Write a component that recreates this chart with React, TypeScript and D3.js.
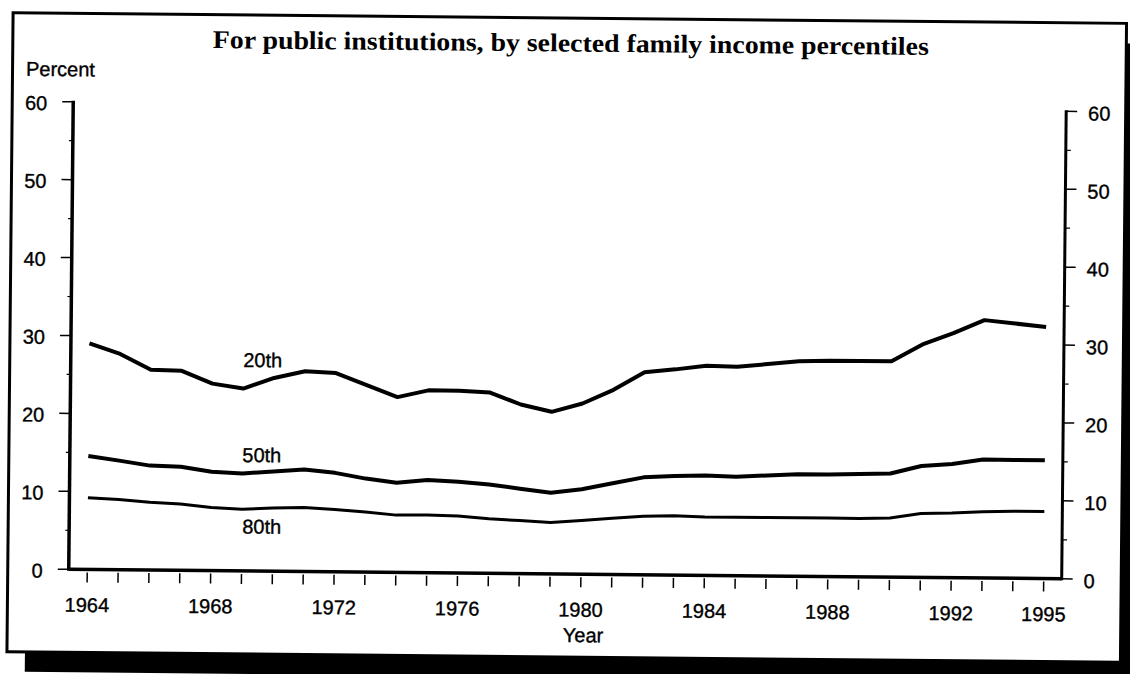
import React from "react";
import * as d3 from "d3";

const years: number[] = d3.range(1964, 1996);
const pct20: number[] = [29.0, 27.7, 25.7, 25.6, 24.0, 23.4, 24.8, 25.7, 25.5, 24.0, 22.5, 23.4, 23.4, 23.2, 21.7, 20.8, 21.9, 23.7, 26.0, 26.4, 26.9, 26.8, 27.2, 27.6, 27.7, 27.7, 27.7, 29.9, 31.4, 33.1, 32.7, 32.3];
const pct50: number[] = [14.55, 14.0, 13.4, 13.3, 12.7, 12.5, 12.8, 13.1, 12.7, 12.0, 11.5, 11.9, 11.7, 11.4, 10.9, 10.4, 10.9, 11.7, 12.5, 12.7, 12.8, 12.7, 12.9, 13.1, 13.1, 13.2, 13.3, 14.3, 14.6, 15.2, 15.2, 15.2];
const pct80: number[] = [9.2, 9.0, 8.7, 8.5, 8.1, 7.9, 8.1, 8.2, 8.0, 7.7, 7.35, 7.4, 7.3, 7.0, 6.8, 6.6, 6.9, 7.2, 7.5, 7.6, 7.5, 7.5, 7.5, 7.5, 7.5, 7.5, 7.6, 8.2, 8.3, 8.5, 8.6, 8.6];
const xTickLabels: number[] = [1964, 1968, 1972, 1976, 1980, 1984, 1988, 1992, 1995];
const yMajorTicks: number[] = [0, 10, 20, 30, 40, 50, 60];
const yMinorTicks: number[] = [5, 15, 25, 35, 45, 55];
const seriesLabels = [
  { name: "20th", values: pct20, width: 4, lx: 263, ly: 370 },
  { name: "50th", values: pct50, width: 4, lx: 263, ly: 465 },
  { name: "80th", values: pct80, width: 3, lx: 263.5, ly: 536.5 },
];
const title = "For public institutions, by selected family income percentiles";

const SANS = "'Liberation Sans', Arial, Helvetica, sans-serif";
const SERIF = "'Liberation Serif', 'Times New Roman', serif";

export default function App() {
  const left = 71;
  const right = 1064;
  const x = d3.scaleLinear().domain([1964, 1995]).range([89.5, 1046]);
  const y = d3.scaleLinear().domain([0, 60]).range([574, 106.5]);
  const y0 = y(0);
  const line = d3
    .line<number>()
    .x((_, i) => x(years[i]))
    .y((d) => y(d));
  const txt = { fontFamily: SANS, fontSize: 20, stroke: "#000", strokeWidth: 0.35 };

  return (
    <svg
      width={1130}
      height={674}
      style={{ position: "absolute", left: 0, top: 0, background: "#fff" }}
    >
      <rect x={0} y={0} width={1130} height={674} fill="#fff" />
      <g transform="rotate(0.55, 565, 337)">
        {/* shadow */}
        <rect x={28} y={38} width={1125} height={639} fill="#000" />
        {/* frame */}
        <rect x={10} y={18} width={1113.5} height={639} fill="#fff" stroke="#000" strokeWidth={3} />

        <text x={210} y={51.5} fontFamily={SERIF} fontWeight="bold" fontSize={25.5} textLength={716} lengthAdjust="spacingAndGlyphs">
          {title}
        </text>
        <text x={23.5} y={81} {...txt}>
          Percent
        </text>

        {/* left axis */}
        <line x1={left} x2={left} y1={y(60) - 1} y2={y0 + 1.5} stroke="#000" strokeWidth={3.5} />
        {yMajorTicks.map((t) => (
          <g key={"lm" + t}>
            <line x1={left - 11} x2={left} y1={y(t)} y2={y(t)} stroke="#000" strokeWidth={1.5} />
            <text x={45} y={y(t) + 8.5} textAnchor="end" {...txt}>
              {t}
            </text>
          </g>
        ))}
        {yMinorTicks.map((t) => (
          <line key={"ln" + t} x1={left - 4} x2={left} y1={y(t)} y2={y(t)} stroke="#000" strokeWidth={1.2} />
        ))}

        {/* right axis */}
        <line x1={right} x2={right} y1={y(60) - 1} y2={y0 + 1.5} stroke="#000" strokeWidth={3} />
        {yMajorTicks.map((t) => (
          <g key={"rm" + t}>
            <line x1={right} x2={right + 11} y1={y(t)} y2={y(t)} stroke="#000" strokeWidth={1.5} />
            <text x={1086} y={y(t) + 9} textAnchor="start" {...txt}>
              {t}
            </text>
          </g>
        ))}
        {yMinorTicks.map((t) => (
          <line key={"rn" + t} x1={right} x2={right + 5} y1={y(t)} y2={y(t)} stroke="#000" strokeWidth={1.2} />
        ))}

        {/* x axis */}
        <line x1={left} x2={right} y1={y0} y2={y0} stroke="#000" strokeWidth={3.5} />
        {years.map((yr) => (
          <line key={"xt" + yr} x1={x(yr)} x2={x(yr)} y1={y0 + 3} y2={y0 + 13} stroke="#000" strokeWidth={1.5} />
        ))}
        {xTickLabels.map((yr) => (
          <text key={"xl" + yr} x={x(yr)} y={616.5} textAnchor="middle" {...txt}>
            {yr}
          </text>
        ))}
        <text x={586} y={642} textAnchor="middle" {...txt}>
          Year
        </text>

        {/* series */}
        {seriesLabels.map((s) => (
          <g key={s.name}>
            <path d={line(s.values) || ""} fill="none" stroke="#000" strokeWidth={s.width} strokeLinejoin="round" />
            <text x={s.lx} y={s.ly} textAnchor="middle" {...txt}>
              {s.name}
            </text>
          </g>
        ))}
      </g>
    </svg>
  );
}
